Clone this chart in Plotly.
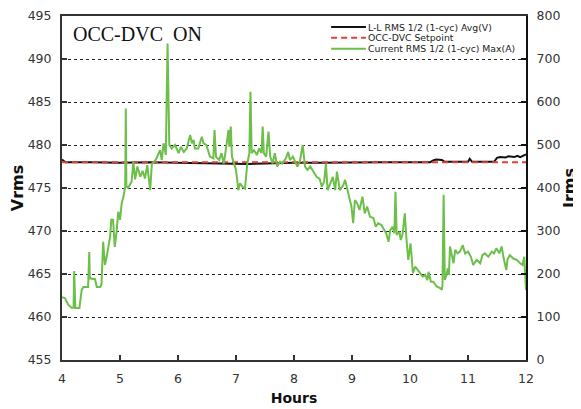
import plotly.graph_objects as go

# Current RMS (right axis, A)
hours_i = [4.00, 4.05, 4.11, 4.17, 4.20, 4.21, 4.23, 4.30, 4.34, 4.37, 4.45, 4.47, 4.48, 4.57,
           4.60, 4.66, 4.68, 4.71, 4.74, 4.77, 4.83, 4.85, 4.88, 4.91, 4.94, 4.97, 5.00, 5.03,
           5.06, 5.09, 5.10, 5.11, 5.14, 5.20, 5.23, 5.26, 5.30, 5.35, 5.39, 5.43, 5.47, 5.52,
           5.55, 5.59, 5.63, 5.69, 5.72, 5.75, 5.79, 5.82, 5.85, 5.89, 5.95, 6.01, 6.05, 6.10,
           6.15, 6.21, 6.24, 6.27, 6.29, 6.35, 6.41, 6.44, 6.49, 6.55, 6.61, 6.63, 6.655, 6.71,
           6.75, 6.79, 6.84, 6.87, 6.885, 6.91, 6.93, 6.95, 7.00, 7.04, 7.07, 7.11, 7.155, 7.195,
           7.23, 7.25, 7.27, 7.31, 7.36, 7.40, 7.44, 7.46, 7.48, 7.52, 7.56, 7.59, 7.63, 7.67,
           7.71, 7.76, 7.80, 7.86, 7.90, 7.93, 7.98, 8.02, 8.06, 8.10, 8.15, 8.19, 8.23, 8.28,
           8.33, 8.39, 8.44, 8.48, 8.52, 8.55, 8.58, 8.62, 8.67, 8.71, 8.74, 8.79, 8.85, 8.88,
           8.91, 8.95, 8.99, 9.02, 9.05, 9.09, 9.13, 9.18, 9.22, 9.26, 9.31, 9.37, 9.41, 9.45,
           9.51, 9.54, 9.59, 9.63, 9.66, 9.70, 9.73, 9.75, 9.77, 9.82, 9.84, 9.87, 9.91, 9.94,
           9.97, 10.01, 10.05, 10.09, 10.13, 10.17, 10.22, 10.26, 10.30, 10.32, 10.36, 10.40,
           10.46, 10.52, 10.55, 10.56, 10.58, 10.60, 10.63, 10.65, 10.67, 10.69, 10.72, 10.75,
           10.78, 10.82, 10.86, 10.91, 10.95, 11.00, 11.05, 11.09, 11.15, 11.21, 11.25, 11.29,
           11.35, 11.41, 11.45, 11.49, 11.54, 11.58, 11.61, 11.66, 11.68, 11.72, 11.78, 11.84,
           11.90, 11.94, 11.97, 11.99, 12.00]
irms = [146, 144, 128, 121, 122, 207, 121, 121, 163, 170, 170, 251, 190, 188,
        170, 170, 175, 275, 221, 240, 287, 326, 326, 263, 297, 345, 326, 365,
        380, 403, 585, 405, 400, 415, 461, 420, 450, 426, 440, 422, 453, 395,
        457, 461, 469, 488, 465, 504, 477, 736, 500, 492, 500, 481, 496, 484,
        492, 523, 504, 512, 492, 492, 519, 504, 500, 473, 469, 535, 473, 465,
        481, 457, 504, 535, 496, 543, 473, 465, 442, 395, 411, 403, 399, 457,
        481, 624, 481, 488, 477, 492, 481, 543, 481, 473, 531, 473, 457, 481,
        450, 461, 457, 469, 484, 465, 473, 461, 450, 461, 500, 450, 442, 450,
        438, 426, 422, 403, 415, 457, 395, 411, 426, 395, 438, 395, 407, 419,
        400, 380, 357, 318, 372, 364, 349, 380, 341, 357, 333, 330, 310, 318,
        314, 306, 295, 275, 302, 310, 295, 391, 291, 298, 279, 291, 341, 279,
        233, 271, 202, 217, 209, 202, 194, 198, 186, 205, 182, 182,
        171, 167, 163, 175, 384, 186, 198, 213, 198, 264, 248, 225,
        256, 248, 252, 267, 248, 252, 240, 221, 233, 225, 244, 248,
        240, 252, 248, 260, 248, 264, 240, 209, 233, 244, 236, 233,
        225, 221, 240, 202, 163]

# Line-to-line voltage (left axis, V)
hours_v = [4.00, 4.03, 4.06, 4.5, 5.0, 5.5, 6.0, 6.4, 6.6, 6.8, 7.2, 7.5, 8.0, 8.5, 9.0,
           9.5, 10.0, 10.35, 10.4, 10.45, 10.55, 10.6, 11.0, 11.03, 11.07, 11.45, 11.5,
           11.55, 11.65, 11.7, 11.8, 11.85, 11.9, 11.95, 12.0]
vrms = [478.3, 478.1, 478.0, 478.0, 477.95, 478.0, 477.95, 477.9, 477.85, 477.8, 477.8,
        477.85, 477.95, 477.95, 478.0, 478.0, 478.0, 478.0, 478.2, 478.3, 478.25, 478.05,
        478.05, 478.4, 478.05, 478.05, 478.5, 478.6, 478.55, 478.7, 478.6, 478.75, 478.6,
        478.8, 478.9]

# Setpoint
setpoint_hours = [4, 12]
setpoint = [478, 478]

x_ticks = [4, 5, 6, 7, 8, 9, 10, 11, 12]

series_names = ["L-L RMS 1/2 (1-cyc) Avg(V)", "OCC-DVC Setpoint", "Current RMS 1/2 (1-cyc) Max(A)"]
series_colors = ["#111111", "#e0403a", "#6cbf48"]
series_dash = ["solid", "6px,4px", "solid"]

fig = go.Figure()
fig.add_trace(go.Scatter(x=hours_v, y=vrms, mode="lines", name=series_names[0],
                         line=dict(color=series_colors[0], width=2)))
fig.add_trace(go.Scatter(x=setpoint_hours, y=setpoint, mode="lines", name=series_names[1],
                         line=dict(color=series_colors[1], width=2, dash=series_dash[1])))
fig.add_trace(go.Scatter(x=hours_i, y=irms, mode="lines", name=series_names[2],
                         line=dict(color=series_colors[2], width=2), yaxis="y2"))

tickfont = dict(family="DejaVu Sans", size=12.5, color="#333333")
xtitlefont = dict(family="DejaVu Sans", size=14, color="#111111", weight="bold")
ytitlefont = dict(family="DejaVu Sans", size=16, color="#111111", weight="bold")

# Compact legend (inside the plot area, top right)
shapes = []
annotations = []
leg_x0, leg_x1 = 0.580, 0.655
for i, (nm, col, dsh) in enumerate(zip(series_names, series_colors, series_dash)):
    yy = 0.968 - i * 0.0315
    shapes.append(dict(type="line", xref="paper", yref="paper", x0=leg_x0, x1=leg_x1,
                       y0=yy, y1=yy, line=dict(color=col, width=2, dash=dsh)))
    annotations.append(dict(text=nm, xref="paper", yref="paper", x=leg_x1 + 0.001, y=yy,
                            xanchor="left", yanchor="middle", showarrow=False,
                            font=dict(family="DejaVu Sans", size=9.3, color="#222222")))

annotations.append(dict(text="OCC-DVC\u00a0 ON", xref="paper", yref="paper", x=0.02, y=0.985,
                        xanchor="left", yanchor="top", showarrow=False,
                        font=dict(family="Liberation Serif", size=20, color="#111111")))

fig.update_layout(
    template="none",
    width=573, height=401,
    margin=dict(l=54, r=55, t=8, b=49, autoexpand=False),
    paper_bgcolor="white", plot_bgcolor="white",
    showlegend=False,
    xaxis=dict(range=[4, 12], tickvals=x_ticks, ticks="inside", ticklen=5, tickwidth=2,
               tickcolor="#333333", showline=True, linecolor="#333333", linewidth=2,
               mirror=True, showgrid=False, zeroline=False, tickfont=tickfont, automargin=False,
               ticklabelstandoff=6,
               title=dict(text="Hours", font=xtitlefont, standoff=8)),
    yaxis=dict(range=[455, 495], dtick=5, ticks="inside", ticklen=5, tickwidth=2,
               tickcolor="#333333", showline=True, linecolor="#333333", linewidth=2,
               showgrid=True, gridcolor="#222222", gridwidth=1, griddash="3px,3px",
               zeroline=False, tickfont=tickfont, automargin=False, ticklabelstandoff=6,
               title=dict(text="Vrms", font=ytitlefont, standoff=3)),
    yaxis2=dict(range=[0, 800], dtick=100, overlaying="y", side="right", ticks="inside",
                ticklen=5, tickwidth=2, tickcolor="#111111", showline=True,
                linecolor="#111111", linewidth=2, showgrid=False, zeroline=False,
                tickfont=tickfont, automargin=False, ticklabelstandoff=6,
                title=dict(text="Irms", font=ytitlefont, standoff=4)),
    shapes=shapes,
    annotations=annotations,
)

fig.write_html("out.html")
